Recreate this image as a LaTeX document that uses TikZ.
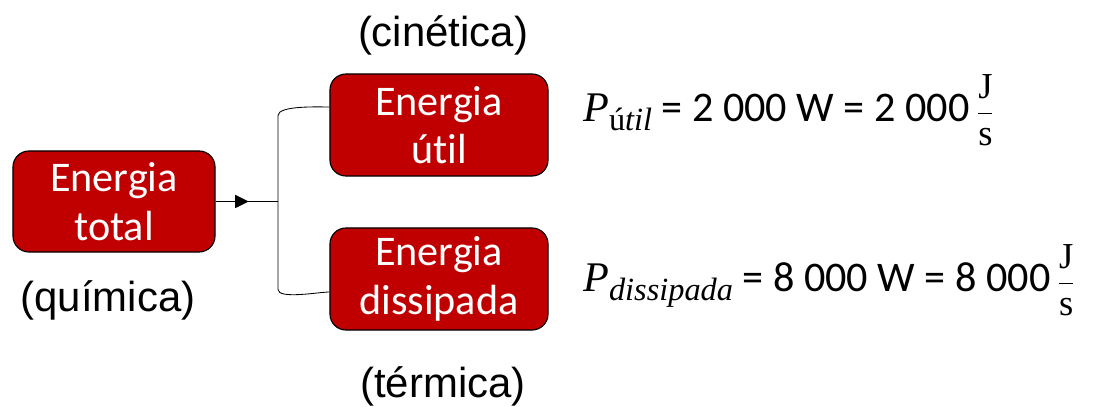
\documentclass[tikz,border=0pt]{standalone}
\usepackage{fontspec}
\setmainfont{Carlito}[Ligatures=NoCommon]
\newfontfamily\labelfont{Liberation Sans}
\newfontfamily\eqserif{Liberation Serif}
\usepackage{amsmath}
\usetikzlibrary{positioning,arrows.meta,calc,decorations.markings}
\definecolor{boxred}{HTML}{C00000}
\newcommand{\jps}{$\dfrac{\text{\eqserif\fontsize{26}{26}\selectfont J}}
  {\text{\eqserif\fontsize{26}{26}\selectfont s}}$}

\begin{document}
\begin{tikzpicture}[
  x=0.025cm,y=0.025cm,
  every node/.style={align=center},
  energybox/.style={draw=black,line width=0.8pt,fill=boxred,text=white,
    rounded corners=0.4cm,inner sep=0pt,
    font=\fontsize{30}{34.5}\selectfont},
  kindlabel/.style={font=\labelfont\fontsize{29.8}{34}\selectfont},
  powereq/.style={anchor=base west,inner sep=0pt,
    font=\fontsize{30}{34}\selectfont},
  link/.style={draw=black,line width=0.6pt}
]
  \useasboundingbox (0,0) rectangle (1104,407);

  % caixas de energia
  \node[energybox,minimum width=5.05cm,minimum height=2.525cm]
    (total) at (114,205.5) {Energia\\total};
  \node[energybox,minimum width=5.45cm,minimum height=2.55cm]
    (util) at (439,282) {Energia\\útil};
  \node[energybox,minimum width=5.45cm,minimum height=2.55cm]
    (dissip) at (439,128) {Energia\\dissipada};

  % tipos de energia
  \node[kindlabel] (cinetica) at (443,372) {(cinética)};
  \node[kindlabel] (quimica) at (108,107) {(química)};
  \node[kindlabel] (termica) at (443,21) {(térmica)};

  % ligações
  \coordinate (split) at (278,0 |- total.east);
  \draw[link,postaction={decorate},decoration={markings,
      mark=at position 0.53 with {\arrow{Triangle[length=0.34cm,width=0.33cm]}}}]
    (total.east) -- (split);
  \draw[link]
    ($(util.west)+(0,18)$) to[out=180,in=90,looseness=0.5] ($(split)+(0,86)$)
    -- ($(split)+(0,-88)$)
    to[out=-90,in=180,looseness=0.5] ($(dissip.west)+(0,-13)$);

  % potências
  \node[powereq] (putil) at (583,285)
    {{\eqserif\itshape P}\raisebox{-0.2em}{\eqserif\fontsize{23}{23}\selectfont ú\itshape til}
     = 2 000 W = 2 000\,\jps};
  \node[powereq] (pdissip) at (583,115)
    {{\eqserif\itshape P}\raisebox{-0.2em}{\eqserif\fontsize{23}{23}\selectfont\itshape dissipada}
     = 8 000 W = 8 000\,\jps};
\end{tikzpicture}
\end{document}
